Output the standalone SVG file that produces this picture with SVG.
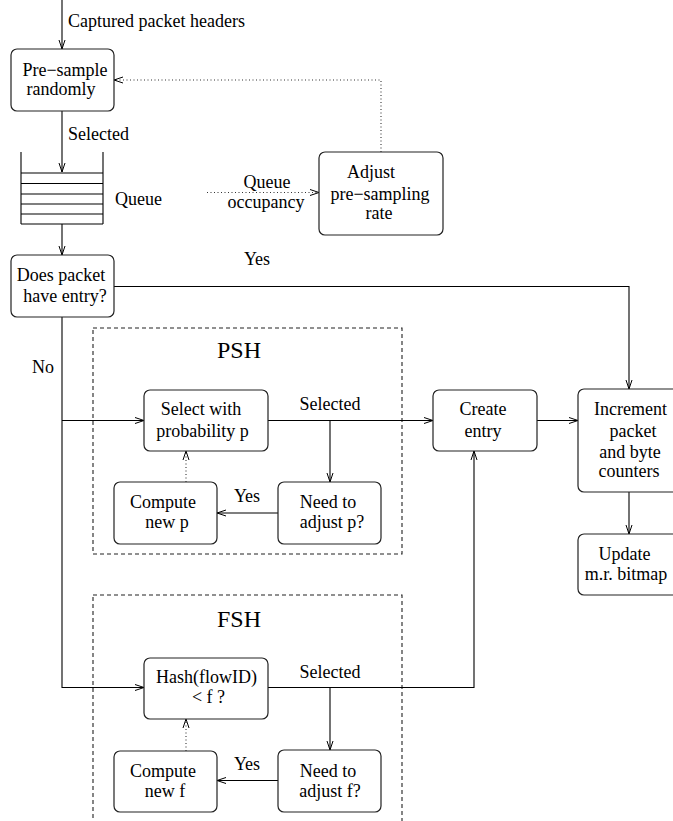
<svg xmlns="http://www.w3.org/2000/svg" width="673" height="821" viewBox="0 0 673 821">
<style>
.box{fill:#fff;stroke:#222;stroke-width:1.2}
.grp{fill:none;stroke:#222;stroke-width:1.1;stroke-dasharray:4,3}
.t{font-family:"Liberation Serif","Times New Roman",serif;font-size:18px;fill:#000;text-anchor:middle}
.s{text-anchor:start}
.big{font-size:24px}
.ln{fill:none;stroke:#000;stroke-width:1.1}
.dot{stroke-dasharray:1,2.5;stroke:#333}
</style>
<defs>
<marker id="ar" markerUnits="userSpaceOnUse" markerWidth="10" markerHeight="8" refX="9" refY="4" orient="auto">
<path d="M0,1 L9,4 L0,7" fill="none" stroke="#000" stroke-width="1"/>
</marker>
</defs>
<rect width="673" height="821" fill="#fff"/>

<g id="psh-group">
<rect class="grp" x="93" y="328" width="309" height="226"/>
<text class="t big" x="239" y="358">PSH</text>
</g>
<g id="fsh-group">
<rect class="grp" x="93" y="595" width="309" height="240"/>
<text class="t big" x="239" y="627">FSH</text>
</g>

<g id="connectors">
<path class="ln" d="M62,0 V49" marker-end="url(#ar)"/>
<path class="ln" d="M62,111 V172" marker-end="url(#ar)"/>
<path class="ln" d="M62,224 V255" marker-end="url(#ar)"/>
<path class="ln dot" d="M381,152 V80 H114" marker-end="url(#ar)"/>
<path class="ln dot" d="M207,192.5 H319" marker-end="url(#ar)"/>
<path class="ln" d="M114,286.5 H629 V389" marker-end="url(#ar)"/>
<path class="ln" d="M62,317 V687.5 H144" marker-end="url(#ar)"/>
<path class="ln" d="M62,420.5 H144" marker-end="url(#ar)"/>
<path class="ln" d="M268,420.5 H433" marker-end="url(#ar)"/>
<path class="ln" d="M330,420.5 V482" marker-end="url(#ar)"/>
<path class="ln" d="M278,513 H217" marker-end="url(#ar)"/>
<path class="ln dot" d="M186,482 V451" marker-end="url(#ar)"/>
<path class="ln" d="M537,420.5 H578" marker-end="url(#ar)"/>
<path class="ln" d="M629,492 V534" marker-end="url(#ar)"/>
<path class="ln" d="M268,687.5 H474 V451" marker-end="url(#ar)"/>
<path class="ln" d="M330,687.5 V750" marker-end="url(#ar)"/>
<path class="ln" d="M278,780.5 H217" marker-end="url(#ar)"/>
<path class="ln dot" d="M186,751 V719" marker-end="url(#ar)"/>
<text class="t s" x="68" y="27">Captured packet headers</text>
<text class="t s" x="68" y="140">Selected</text>
<text class="t" x="267" y="188">Queue</text>
<text class="t" x="266" y="208">occupancy</text>
<text class="t" x="257" y="265">Yes</text>
<text class="t s" x="32" y="373">No</text>
<text class="t" x="330" y="410">Selected</text>
<text class="t" x="247" y="502">Yes</text>
<text class="t" x="330" y="678">Selected</text>
<text class="t" x="247" y="770">Yes</text>
</g>

<g id="presample">
<rect class="box" x="11" y="49" width="103" height="62" rx="6"/>
<text class="t" x="65" y="76">Pre−sample</text>
<text class="t" x="61" y="95">randomly</text>
</g>

<g id="queue">
<path class="ln" d="M21,152 V224 M103,152 V224 M21,173 H103 M21,183.5 H103 M21,194 H103 M21,204 H103 M21,214 H103 M21,224 H103"/>
<text class="t s" x="115" y="205">Queue</text>
</g>

<g id="adjust">
<rect class="box" x="319" y="152" width="124" height="83" rx="6"/>
<text class="t" x="371" y="178">Adjust</text>
<text class="t" x="380" y="200">pre−sampling</text>
<text class="t" x="379" y="219">rate</text>
</g>

<g id="haveentry">
<rect class="box" x="11" y="255" width="103" height="62" rx="6"/>
<text class="t" x="61" y="281">Does packet</text>
<text class="t" x="65" y="302">have entry?</text>
</g>

<g id="selectp">
<rect class="box" x="144" y="390" width="124" height="61" rx="6"/>
<text class="t" x="201" y="415">Select with</text>
<text class="t" x="202.5" y="437">probability p</text>
</g>

<g id="needp">
<rect class="box" x="278" y="482" width="103" height="62" rx="6"/>
<text class="t" x="328" y="508">Need to</text>
<text class="t" x="332" y="528">adjust p?</text>
</g>

<g id="computep">
<rect class="box" x="114" y="482" width="103" height="62" rx="6"/>
<text class="t" x="163" y="508">Compute</text>
<text class="t" x="167" y="528">new p</text>
</g>

<g id="create">
<rect class="box" x="433" y="390" width="104" height="61" rx="6"/>
<text class="t" x="483" y="415">Create</text>
<text class="t" x="483" y="437">entry</text>
</g>

<g id="increment">
<rect class="box" x="578" y="389" width="105" height="103" rx="6"/>
<text class="t" x="630.5" y="415">Increment</text>
<text class="t" x="633" y="437">packet</text>
<text class="t" x="630" y="458">and byte</text>
<text class="t" x="629" y="477">counters</text>
</g>

<g id="update">
<rect class="box" x="578" y="534" width="105" height="61" rx="6"/>
<text class="t" x="624.5" y="560">Update</text>
<text class="t" x="626" y="580">m.r. bitmap</text>
</g>

<g id="hash">
<rect class="box" x="144" y="658" width="124" height="61" rx="6"/>
<text class="t" x="206.5" y="683">Hash(flowID)</text>
<text class="t" x="208.5" y="703">&lt; f ?</text>
</g>

<g id="needf">
<rect class="box" x="278" y="750" width="103" height="62" rx="6"/>
<text class="t" x="328" y="777">Need to</text>
<text class="t" x="330" y="797">adjust f?</text>
</g>

<g id="computef">
<rect class="box" x="114" y="751" width="103" height="61" rx="6"/>
<text class="t" x="163" y="777">Compute</text>
<text class="t" x="165" y="797">new f</text>
</g>
</svg>
